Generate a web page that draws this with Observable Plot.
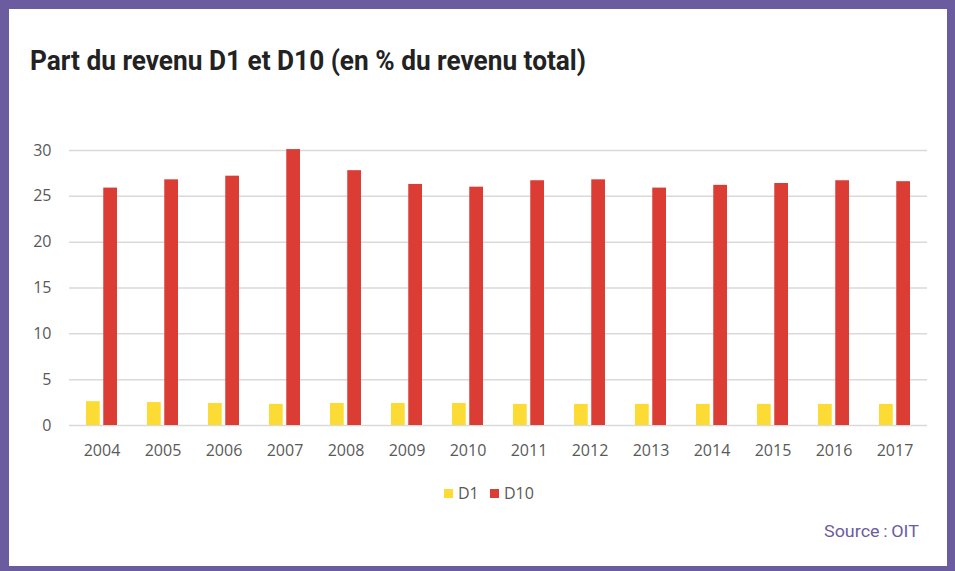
<!DOCTYPE html>
<html>
<head>
<meta charset="utf-8">
<script src="https://cdn.jsdelivr.net/npm/d3@7"></script>
<script src="https://cdn.jsdelivr.net/npm/@observablehq/plot@0.6"></script>
<style>
  html, body { margin: 0; padding: 0; background: #fff; }
  #frame { position: relative; width: 955px; height: 571px; box-sizing: border-box;
    border-style: solid; border-color: #6a5c9f; border-width: 9px 8px 5px 9px; overflow: hidden; }
  #title { position: absolute; left: 21px; top: 36px; font-family: Roboto, sans-serif; font-weight: 700;
    font-size: 27px; color: #222; white-space: nowrap; transform-origin: 0 0; }
  #chart { position: absolute; left: -9px; top: 121px; width: 955px; height: 335px; }
  #chart svg { max-width: none !important; width: 955px; height: 335px; }
  #legend { position: absolute; left: 0; width: 938px; top: 473px; font-family: "Open Sans", sans-serif; font-size: 16px; color: #595959; }
  #legend .item { position: absolute; top: 0; display: flex; align-items: center; }
  #legend .sw { width: 9px; height: 9px; margin-right: 5px; }
  #source { position: absolute; right: 28px; top: 512px; font-family: Roboto, sans-serif; font-size: 17px; color: #6b5ca0; white-space: nowrap; }
</style>
</head>
<body>
<div id="frame">
  <div id="title">Part du revenu D1 et D10 (en % du revenu total)</div>
  <div id="chart"></div>
  <div id="legend"></div>
  <div id="source">Source&#8201;:&#8201;OIT</div>
</div>
<script>
const years = ["2004","2005","2006","2007","2008","2009","2010","2011","2012","2013","2014","2015","2016","2017"];
const d1  = [2.6, 2.5, 2.4, 2.3, 2.4, 2.4, 2.4, 2.3, 2.3, 2.3, 2.3, 2.3, 2.3, 2.3];
const d10 = [25.9, 26.8, 27.2, 30.1, 27.8, 26.3, 26.0, 26.7, 26.8, 25.9, 26.2, 26.4, 26.7, 26.6];
const seriesNames = ["D1", "D10"];
const seriesColors = ["#fcdc34", "#db3d35"];
const yTicks = [0, 5, 10, 15, 20, 25, 30];

const rowsD1 = years.map((y, i) => ({year: y, value: d1[i]}));
const rowsD10 = years.map((y, i) => ({year: y, value: d10[i]}));

const bandW = 31.26, barW = 14;
const plot = Plot.plot({
  width: 955,
  height: 335,
  marginLeft: 69,
  marginRight: 28,
  marginTop: 20,
  marginBottom: 40,
  style: {fontFamily: "'Open Sans', sans-serif", fontSize: "16px", color: "#595959", background: "transparent", maxWidth: "none"},
  x: {domain: years, paddingInner: 0.49, paddingOuter: 0.245, label: null},
  y: {domain: [0, 30], label: null},
  marks: [
    Plot.ruleY(yTicks, {stroke: "#d9d9d9", strokeWidth: 1.5}),
    Plot.barY(rowsD1, {x: "year", y: "value", fill: seriesColors[0], insetRight: bandW - barW}),
    Plot.barY(rowsD10, {x: "year", y: "value", fill: seriesColors[1], insetLeft: bandW - barW}),
    Plot.axisX({tickSize: 0, tickPadding: 19, fill: "#595959", label: null}),
    Plot.axisY({ticks: yTicks, tickSize: 0, tickPadding: 18, fill: "#595959", label: null})
  ]
});
document.getElementById("chart").appendChild(plot);

const legend = document.getElementById("legend");
const legendX = [435, 481];
seriesNames.forEach((name, i) => {
  const it = document.createElement("div");
  it.className = "item";
  it.style.left = legendX[i] + "px";
  it.innerHTML = `<span class="sw" style="background:${seriesColors[i]}"></span><span>${name}</span>`;
  legend.appendChild(it);
});

// fit the title to the reference width (condensed display face)
const t = document.getElementById("title");
const w = t.getBoundingClientRect().width;
t.style.transform = `scaleX(${556 / w})`;
const s = document.getElementById("source");
const sw = s.getBoundingClientRect().width;
s.style.transformOrigin = "100% 0";
s.style.transform = `scaleX(${95 / sw})`;
</script>
</body>
</html>
